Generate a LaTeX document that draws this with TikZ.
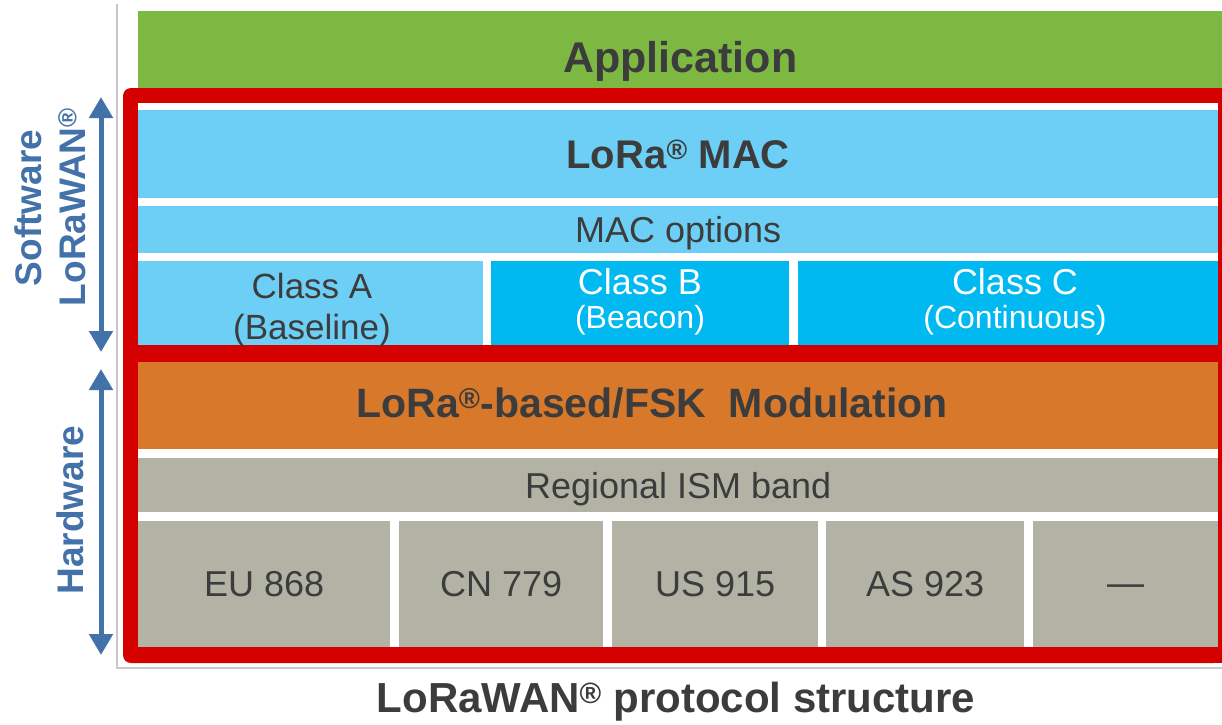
\documentclass[tikz,border=0pt]{standalone}
\usepackage{fontspec}
\setmainfont{Liberation Sans}
\usetikzlibrary{arrows.meta}

\definecolor{appgreen}{HTML}{7DB843}
\definecolor{macblue}{HTML}{6DCFF6}
\definecolor{classcyan}{HTML}{00B9F0}
\definecolor{modorange}{HTML}{D7782B}
\definecolor{bandgray}{HTML}{B2B3A5}
\definecolor{lorared}{HTML}{D40000}
\definecolor{inkgray}{HTML}{3C3C3C}
\definecolor{sideblue}{HTML}{4371A9}
\definecolor{framegray}{HTML}{C8C8C8}

\newcommand{\txtsize}[1]{\fontsize{#1}{#1}\selectfont}
\newcommand{\regmark}{\textsuperscript{\textregistered}}

\begin{document}
\begin{tikzpicture}[x=1pt,y=-1pt,
  layer/.style 2 args={draw=none,inner sep=0pt,anchor=north west,
    minimum width=#1pt,minimum height=#2pt,text depth=0pt,text=inkgray},
  twoline/.style={inner sep=0pt,align=center,text depth=0pt},
  sidelabel/.style={rotate=90,inner sep=0pt,text=sideblue,font=\bfseries\txtsize{37}},
  span/.style={draw=sideblue,line width=5pt,
    {Triangle[length=21pt,width=23pt]}-{Triangle[length=21pt,width=23pt]}}]
\useasboundingbox[fill=white] (0,0) rectangle (1222,724);

% application on top, half hidden by the red frame
\node[layer={1084}{92},fill=appgreen,font=\bfseries\txtsize{43}] (app) at (138,11) {Application};

% red frame round the LoRaWAN stack
\fill[lorared,rounded corners=8pt] (123,88) rectangle (1222,663);
\fill[lorared] (1200,88) rectangle (1222,663);
\fill[white] (138,103) rectangle (1218,345);
\fill[white] (138,362) rectangle (1218,647);

% software part
\node[layer={1080}{88},fill=macblue,font=\bfseries\txtsize{40}] (mac) at (138,110) {LoRa\regmark\ MAC};
\node[layer={1080}{47},fill=macblue,font=\txtsize{36}] (macopt) at (138,206) {MAC options};
\node[layer={345}{84},fill=macblue] (classA) at (138,261) {};
\node[layer={298}{84},fill=classcyan] (classB) at (491,261) {};
\node[layer={420}{84},fill=classcyan] (classC) at (798,261) {};
\node[twoline,text=inkgray,font=\fontsize{35}{41}\selectfont] (classAtxt) at (312,306) {Class A\\(Baseline)};
\node[twoline,text=white,font=\fontsize{32}{34}\selectfont] (classBtxt) at (640,298.5)
  {{\fontsize{36}{34}\selectfont Class B}\\(Beacon)};
\node[twoline,text=white,font=\fontsize{32}{34}\selectfont] (classCtxt) at (1015,298.5)
  {{\fontsize{36}{34}\selectfont Class C}\\(Continuous)};

% hardware part
\node[layer={1080}{87},fill=modorange] (mod) at (138,362) {};
\node[inner sep=0pt,text depth=0pt,text=inkgray,font=\bfseries\txtsize{41}] (modtext) at (652,403)
  {LoRa\regmark-based/FSK\ \ Modulation};
\node[layer={1080}{54},fill=bandgray,font=\txtsize{36}] (ism) at (138,458) {Regional ISM band};
\node[layer={252}{126},fill=bandgray,font=\txtsize{36}] (eu) at (138,521) {EU 868};
\node[layer={204}{126},fill=bandgray,font=\txtsize{36}] (cn) at (399,521) {CN 779};
\node[layer={206}{126},fill=bandgray,font=\txtsize{36}] (us) at (612,521) {US 915};
\node[layer={198}{126},fill=bandgray,font=\txtsize{36}] (as) at (826,521) {AS 923};
\node[layer={185}{126},fill=bandgray,font=\txtsize{37}] (more) at (1033,521) {\raisebox{-11pt}{---}};

% thin frame lines
\draw[framegray,line width=1.5pt] (117,4) -- (117,668) -- (1222,668);

% side arrows and labels
\coordinate (swtop) at (101,97);
\coordinate (swbot) at (101,352);
\coordinate (hwtop) at (101,369);
\coordinate (hwbot) at (101,655);
\draw[span] (swtop) -- (swbot);
\draw[span] (hwtop) -- (hwbot);
\node[sidelabel] (sw) at (28,208) {Software};
\node[sidelabel] (lw) at (72,207) {LoRaWAN\regmark};
\node[sidelabel] (hw) at (70,510) {Hardware};

% caption
\node[inner sep=0pt,text=inkgray,font=\bfseries\txtsize{42}] (title) at (676,702) {LoRaWAN\regmark\ protocol structure};
\end{tikzpicture}
\end{document}
